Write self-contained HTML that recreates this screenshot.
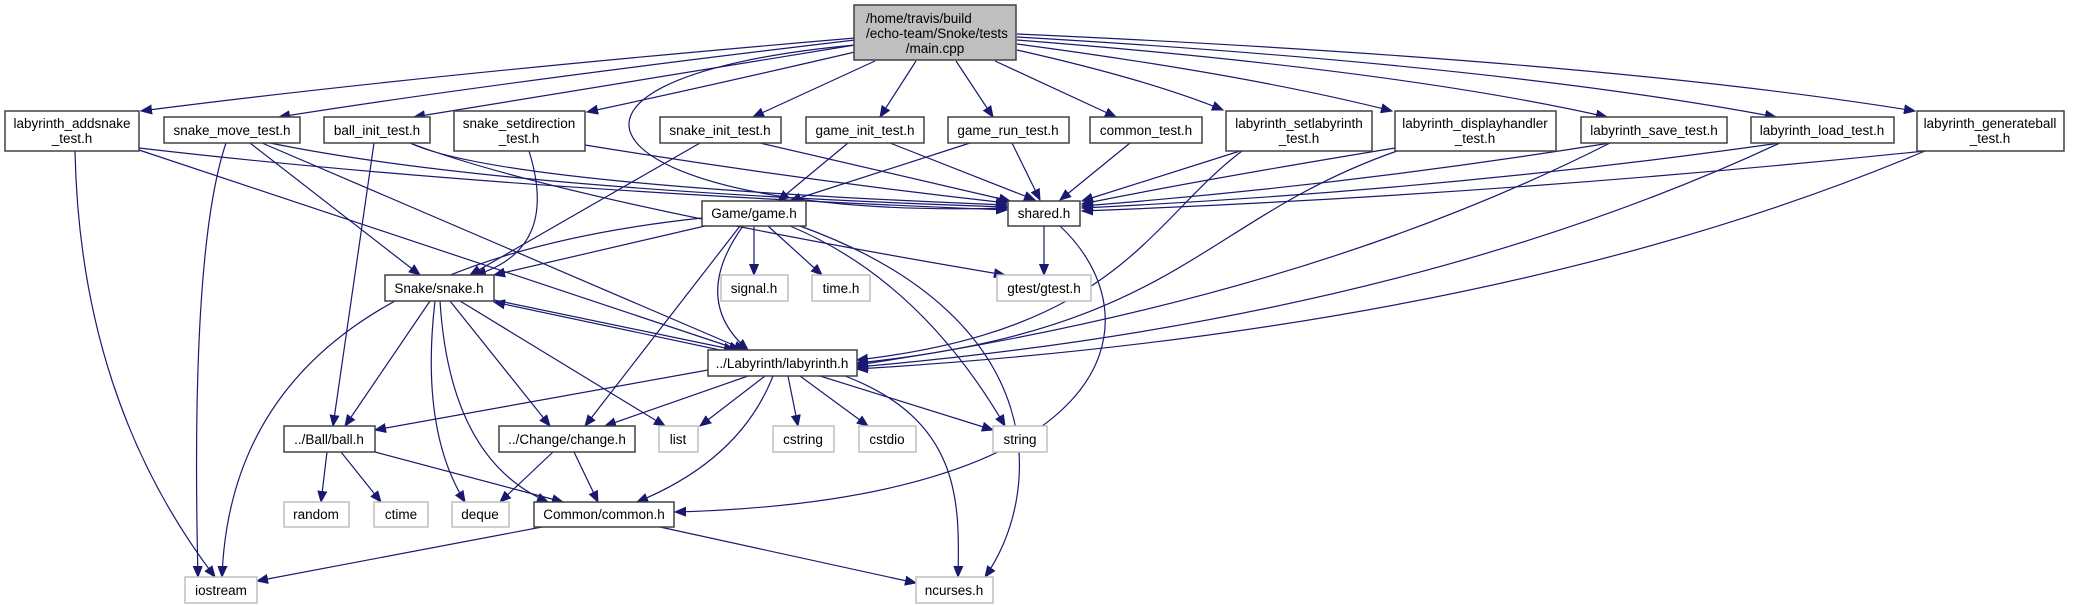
<!DOCTYPE html>
<html><head><meta charset="utf-8"><style>
html,body{margin:0;padding:0;background:#fff;}
svg{display:block;}
text{font-family:"Liberation Sans",sans-serif;font-size:13.5px;fill:#000;}
.n{fill:#fff;stroke:#404040;stroke-width:1.5;}
.x{fill:#fff;stroke:#bfbfbf;stroke-width:1.5;}
.e{fill:none;stroke:#191970;stroke-width:1.2;}
</style></head><body>
<svg width="2073" height="605" viewBox="0 0 2073 605" xmlns="http://www.w3.org/2000/svg">
<defs><marker id="a" markerUnits="userSpaceOnUse" markerWidth="12" markerHeight="10" refX="11" refY="5" orient="auto"><path d="M0,0.5 L11,5 L0,9.5 z" fill="#191970" stroke="#191970"/></marker></defs>
<g class="e" marker-end="url(#a)">
<path d="M855,38 Q420,75 141,111"/>
<path d="M855,40 Q500,82 279,117"/>
<path d="M855,45 Q580,90 414,117"/>
<path d="M855,52 Q700,88 587,112"/>
<path d="M875,61 L753,117"/>
<path d="M916,61 L880,117"/>
<path d="M956,61 L993,117"/>
<path d="M995,61 L1116,117"/>
<path d="M1017,50 Q1150,80 1223,110"/>
<path d="M1017,44 Q1250,75 1392,111"/>
<path d="M1017,40 Q1400,70 1607,117"/>
<path d="M1017,37 Q1500,65 1776,117"/>
<path d="M1017,34 Q1600,60 1915,111"/>
<path d="M855,45 C480,80 600,220 1007,208"/>
<path d="M139,148 Q500,190 1007,210"/>
<path d="M270,143 Q500,190 1007,207"/>
<path d="M410,143 Q500,185 1007,205"/>
<path d="M585,145 Q800,180 1007,203"/>
<path d="M760,143 L1010,201"/>
<path d="M890,143 L1035,200"/>
<path d="M1012,143 L1040,200"/>
<path d="M1130,143 L1060,200"/>
<path d="M1240,151 L1082,201"/>
<path d="M1395,148 Q1200,180 1082,204"/>
<path d="M1610,143 Q1350,185 1082,206"/>
<path d="M1780,143 Q1450,190 1082,208"/>
<path d="M1925,151 Q1500,195 1082,211"/>
<path d="M75,151 Q80,400 215,577"/>
<path d="M139,150 L740,350"/>
<path d="M226,143 Q190,250 198,577"/>
<path d="M250,143 L420,275"/>
<path d="M262,143 L745,350"/>
<path d="M374,143 L333,426"/>
<path d="M410,143 Q560,200 1005,275"/>
<path d="M529,151 Q560,250 475,275"/>
<path d="M700,143 L470,275"/>
<path d="M848,143 L778,201"/>
<path d="M970,143 L790,201"/>
<path d="M1242,151 C1150,220 1120,330 857,360"/>
<path d="M1397,151 C1200,220 1180,330 857,363"/>
<path d="M1610,143 Q1300,300 857,365"/>
<path d="M1780,143 Q1400,320 857,367"/>
<path d="M1925,151 Q1500,330 857,369"/>
<path d="M1044,226 L1044,275"/>
<path d="M1060,226 C1160,320 1120,500 675,512"/>
<path d="M702,218 C400,250 230,360 222,577"/>
<path d="M705,226 L494,275"/>
<path d="M754,226 L754,275"/>
<path d="M768,226 L822,275"/>
<path d="M743,226 Q690,300 748,350"/>
<path d="M740,226 L585,426"/>
<path d="M790,226 Q920,280 1005,426"/>
<path d="M800,226 C1060,320 1040,500 985,577"/>
<path d="M494,300 L735,350"/>
<path d="M430,301 L345,426"/>
<path d="M435,301 Q420,430 465,502"/>
<path d="M440,301 Q450,460 548,502"/>
<path d="M450,301 L550,426"/>
<path d="M460,301 L665,426"/>
<path d="M720,350 L494,302"/>
<path d="M708,370 L375,430"/>
<path d="M748,376 L605,426"/>
<path d="M765,376 L700,426"/>
<path d="M788,376 L798,426"/>
<path d="M800,376 L868,426"/>
<path d="M820,376 L993,430"/>
<path d="M773,376 Q740,460 637,502"/>
<path d="M845,376 C960,420 960,500 958,577"/>
<path d="M327,452 L321,502"/>
<path d="M341,452 L381,502"/>
<path d="M375,452 L563,502"/>
<path d="M553,452 L500,502"/>
<path d="M574,452 L598,502"/>
<path d="M542,527 L257,581"/>
<path d="M660,527 L916,583"/>
</g>
<rect x="854" y="5" width="162" height="55" fill="#bfbfbf" stroke="#404040" stroke-width="1.5"/>
<text x="866" y="23">/home/travis/build</text>
<text x="866" y="38">/echo-team/Snoke/tests</text>
<text x="935" y="53" text-anchor="middle">/main.cpp</text>
<g text-anchor="middle">
<rect class="n" x="5" y="111" width="134" height="40"/><text x="72" y="128">labyrinth_addsnake</text><text x="72" y="143">_test.h</text>
<rect class="n" x="164" y="117" width="136" height="26"/><text x="232" y="135">snake_move_test.h</text>
<rect class="n" x="324" y="117" width="106" height="26"/><text x="377" y="135">ball_init_test.h</text>
<rect class="n" x="454" y="111" width="131" height="40"/><text x="519" y="128">snake_setdirection</text><text x="519" y="143">_test.h</text>
<rect class="n" x="660" y="117" width="121" height="26"/><text x="720" y="135">snake_init_test.h</text>
<rect class="n" x="806" y="117" width="118" height="26"/><text x="865" y="135">game_init_test.h</text>
<rect class="n" x="948" y="117" width="121" height="26"/><text x="1008" y="135">game_run_test.h</text>
<rect class="n" x="1090" y="117" width="112" height="26"/><text x="1146" y="135">common_test.h</text>
<rect class="n" x="1226" y="111" width="146" height="40"/><text x="1299" y="128">labyrinth_setlabyrinth</text><text x="1299" y="143">_test.h</text>
<rect class="n" x="1395" y="111" width="161" height="40"/><text x="1475" y="128">labyrinth_displayhandler</text><text x="1475" y="143">_test.h</text>
<rect class="n" x="1581" y="117" width="146" height="26"/><text x="1654" y="135">labyrinth_save_test.h</text>
<rect class="n" x="1751" y="117" width="143" height="26"/><text x="1822" y="135">labyrinth_load_test.h</text>
<rect class="n" x="1917" y="111" width="147" height="40"/><text x="1990" y="128">labyrinth_generateball</text><text x="1990" y="143">_test.h</text>
<rect class="n" x="702" y="201" width="104" height="25"/><text x="754" y="218">Game/game.h</text>
<rect class="n" x="1008" y="201" width="72" height="25"/><text x="1044" y="218">shared.h</text>
<rect class="n" x="385" y="275" width="109" height="26"/><text x="439" y="293">Snake/snake.h</text>
<rect class="x" x="721" y="275" width="67" height="26"/><text x="754" y="293">signal.h</text>
<rect class="x" x="812" y="275" width="58" height="26"/><text x="841" y="293">time.h</text>
<rect class="x" x="997" y="275" width="94" height="26"/><text x="1044" y="293">gtest/gtest.h</text>
<rect class="n" x="708" y="350" width="149" height="26"/><text x="782" y="368">../Labyrinth/labyrinth.h</text>
<rect class="n" x="284" y="426" width="91" height="26"/><text x="329" y="444">../Ball/ball.h</text>
<rect class="n" x="499" y="426" width="136" height="26"/><text x="567" y="444">../Change/change.h</text>
<rect class="x" x="659" y="426" width="39" height="26"/><text x="678" y="444">list</text>
<rect class="x" x="773" y="426" width="61" height="26"/><text x="803" y="444">cstring</text>
<rect class="x" x="859" y="426" width="57" height="26"/><text x="887" y="444">cstdio</text>
<rect class="x" x="993" y="426" width="54" height="26"/><text x="1020" y="444">string</text>
<rect class="x" x="284" y="502" width="65" height="25"/><text x="316" y="519">random</text>
<rect class="x" x="374" y="502" width="54" height="25"/><text x="401" y="519">ctime</text>
<rect class="x" x="452" y="502" width="57" height="25"/><text x="480" y="519">deque</text>
<rect class="n" x="534" y="502" width="140" height="25"/><text x="604" y="519">Common/common.h</text>
<rect class="x" x="185" y="577" width="72" height="26"/><text x="221" y="595">iostream</text>
<rect class="x" x="916" y="577" width="77" height="26"/><text x="954" y="595">ncurses.h</text>
</g>
</svg>
</body></html>
